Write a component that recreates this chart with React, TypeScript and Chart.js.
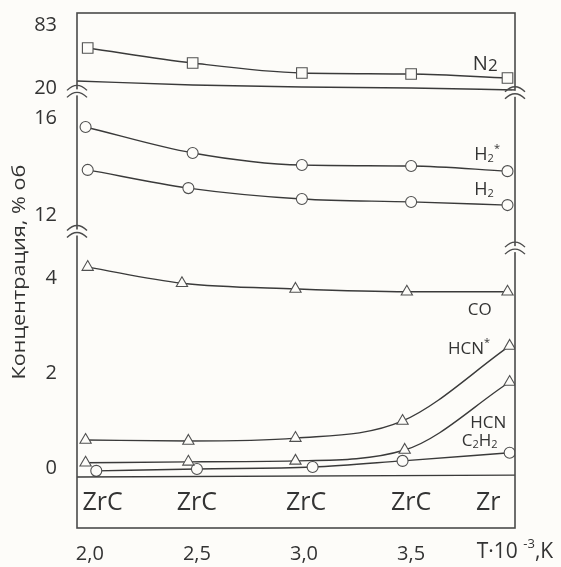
import { useEffect, useRef } from "react";
import { Chart, registerables } from "chart.js";
Chart.register(...registerables);

// ---- data ----
const xTicks = [2.0, 2.5, 3.0, 3.5];
const xTickLabels = ["2,0", "2,5", "3,0", "3,5"];
const yTickValues = [0, 2, 4, 12, 16, 20, 83];
const yTickLabels = ["0", "2", "4", "12", "16", "20", "83"];

const n2X = [1.99, 2.48, 2.99, 3.5, 3.95];
const n2Y = [60, 45, 35, 34, 30];
const upperLineX = [1.94, 2.48, 2.99, 3.5, 3.985];
const upperLineY = [27, 23, 21, 20, 18];
const h2StarX = [1.98, 2.48, 2.99, 3.5, 3.95];
const h2StarY = [15.63, 14.56, 14.06, 14.02, 13.81];
const h2X = [1.99, 2.46, 2.99, 3.5, 3.95];
const h2Y = [13.86, 13.11, 12.66, 12.54, 12.41];
const coX = [1.99, 2.43, 2.96, 3.48, 3.95];
const coY = [4.23, 3.89, 3.77, 3.71, 3.71];
const hcnStarX = [1.98, 2.46, 2.96, 3.46, 3.96];
const hcnStarY = [0.59, 0.57, 0.63, 0.99, 2.57];
const hcnX = [1.98, 2.46, 2.96, 3.47, 3.96];
const hcnY = [0.11, 0.13, 0.15, 0.38, 1.81];
const c2h2X = [2.03, 2.5, 3.04, 3.46, 3.96];
const c2h2Y = [-0.06, -0.02, 0.02, 0.15, 0.32];
const baseLineX = [1.94, 3.985];
const baseLineY = [-0.19, -0.15];

const phaseLabels = ["ZrC", "ZrC", "ZrC", "ZrC", "Zr"];
const phaseX = [2.06, 2.5, 3.01, 3.5, 3.86];

// ---- broken axis transform: value -> display coordinate ----
const toD = (v: number) => {
  if (v <= 8) return v;
  if (v <= 17.5) return 5.326 + (v - 12) * 0.5105;
  return 8 + (v - 20) * 0.02105;
};

const FONT = "'Open Sans', 'DejaVu Sans', sans-serif";
const INK = "#3a3a3a";
const BG = "#fdfcf9";

type Part = { t: string; s?: "sub" | "sup" | "sub2" };

const seriesLabels: { parts: Part[]; x: number; v: number; size: number }[] = [
  { parts: [{ t: "N" }, { t: "2", s: "sub2" }], x: 3.846, v: 44, size: 20 },
  { parts: [{ t: "H" }, { t: "2", s: "sub" }, { t: "*", s: "sup" }], x: 3.855, v: 14.47, size: 18 },
  { parts: [{ t: "H" }, { t: "2", s: "sub" }], x: 3.84, v: 13.03, size: 18 },
  { parts: [{ t: "CO" }], x: 3.82, v: 3.33, size: 17 },
  { parts: [{ t: "HCN" }, { t: "*", s: "sup" }], x: 3.77, v: 2.5, size: 17 },
  { parts: [{ t: "HCN" }], x: 3.86, v: 0.95, size: 17 },
  { parts: [{ t: "C" }, { t: "2", s: "sub" }, { t: "H" }, { t: "2", s: "sub" }], x: 3.82, v: 0.57, size: 17 },
];

function drawRich(ctx: CanvasRenderingContext2D, parts: Part[], cx: number, cy: number, size: number) {
  const small = Math.round(size * 0.62);
  const fontFor = (p: Part) => `${p.s === "sub2" ? Math.round(size * 0.85) : p.s ? small : size}px ${FONT}`;
  let total = 0;
  for (const p of parts) {
    ctx.font = fontFor(p);
    total += ctx.measureText(p.t).width;
  }
  let x = cx - total / 2;
  ctx.textAlign = "left";
  ctx.textBaseline = "middle";
  for (const p of parts) {
    ctx.font = fontFor(p);
    const dy = p.s === "sub" ? size * 0.22 : p.s === "sub2" ? size * 0.1 : p.s === "sup" ? -size * 0.35 : 0;
    ctx.fillText(p.t, x, cy + dy);
    x += ctx.measureText(p.t).width;
  }
}

const mk = (xs: number[], ys: number[]) => xs.map((x, i) => ({ x, y: toD(ys[i]) }));

const decorPlugin = {
  id: "decor",
  beforeDraw(chart: any) {
    const { ctx } = chart;
    ctx.save();
    ctx.fillStyle = BG;
    ctx.fillRect(0, 0, chart.width, chart.height);
    ctx.restore();
  },
  afterDraw(chart: any) {
    const { ctx, chartArea: a } = chart;
    const xs = chart.scales.x;
    const ys = chart.scales.y;
    ctx.save();
    // frame
    ctx.strokeStyle = "#4a4a4a";
    ctx.lineWidth = 1.6;
    ctx.strokeRect(a.left, a.top, a.right - a.left, a.bottom - a.top);

    // axis breaks
    const brk = (x: number, y: number) => {
      ctx.fillStyle = BG;
      ctx.fillRect(x - 3, y - 1, 6, 6);
      ctx.strokeStyle = "#4a4a4a";
      ctx.lineWidth = 1.4;
      for (const off of [0, 7]) {
        ctx.beginPath();
        ctx.moveTo(x - 10, y + off);
        ctx.quadraticCurveTo(x, y + off - 10, x + 10, y + off);
        ctx.stroke();
      }
    };
    brk(a.left, ys.getPixelForValue(7.95));
    brk(a.left, ys.getPixelForValue(5.0));
    brk(a.right, ys.getPixelForValue(7.92));
    brk(a.right, ys.getPixelForValue(4.65));

    // series labels
    ctx.fillStyle = "#333";
    for (const l of seriesLabels) {
      drawRich(ctx, l.parts, xs.getPixelForValue(l.x), ys.getPixelForValue(toD(l.v)), l.size);
    }

    // phase labels
    ctx.font = `25px ${FONT}`;
    ctx.textAlign = "center";
    ctx.textBaseline = "middle";
    phaseLabels.forEach((t, i) => {
      ctx.fillText(t, xs.getPixelForValue(phaseX[i]), a.bottom - 25);
    });

    // x unit label
    drawRich(
      ctx,
      [{ t: "T·10 " }, { t: "-3", s: "sup" }, { t: ",K" }],
      a.right,
      a.bottom + 24,
      21
    );

    // y title
    ctx.save();
    ctx.translate(20, 272);
    ctx.rotate(-Math.PI / 2);
    ctx.font = `19px ${FONT}`;
    const title = "Концентрация, % об";
    const w = ctx.measureText(title).width;
    ctx.scale(215 / w, 1);
    ctx.textAlign = "center";
    ctx.textBaseline = "middle";
    ctx.fillText(title, 0, 0);
    ctx.restore();

    ctx.restore();
  },
};

export default function App() {
  const ref = useRef<HTMLCanvasElement>(null);
  useEffect(() => {
    document.body.style.margin = "0";
    document.body.style.overflow = "hidden";
    const line = (data: any[], style: any, r: number) => ({
      data,
      borderColor: INK,
      borderWidth: 1.4,
      pointStyle: style,
      pointRadius: r,
      pointBackgroundColor: BG,
      pointBorderColor: "#505050",
      pointBorderWidth: 1.1,
      cubicInterpolationMode: "monotone",
      fill: false,
    });
    const chart = new Chart(ref.current!, {
      type: "line",
      data: {
        datasets: [
          line(mk(upperLineX, upperLineY), "circle", 0),
          line(mk(baseLineX, baseLineY), "circle", 0),
          line(mk(n2X, n2Y), "rect", 7.5),
          line(mk(h2StarX, h2StarY), "circle", 5.5),
          line(mk(h2X, h2Y), "circle", 5.5),
          line(mk(coX, coY), "triangle", 6.5),
          line(mk(hcnStarX, hcnStarY), "triangle", 6.5),
          line(mk(hcnX, hcnY), "triangle", 6.5),
          line(mk(c2h2X, c2h2Y), "circle", 5.5),
        ] as any,
      },
      options: {
        animation: false,
        responsive: false,
        devicePixelRatio: 1,
        layout: { padding: { top: 13, right: 46, left: 0, bottom: 0 } },
        plugins: { legend: { display: false }, tooltip: { enabled: false } },
        scales: {
          x: {
            type: "linear",
            min: 1.94,
            max: 3.985,
            grid: { display: false },
            border: { display: false },
            afterBuildTicks: (s: any) => {
              s.ticks = xTicks.map((v) => ({ value: v }));
            },
            afterFit: (s: any) => {
              s.height = 39;
              s.paddingLeft = 0;
              s.paddingRight = 0;
            },
            ticks: {
              autoSkip: false,
              maxRotation: 0,
              padding: 6,
              color: "#333",
              font: { family: FONT, size: 20 },
              callback: (_v: any, i: number) => xTickLabels[i],
            },
          },
          y: {
            type: "linear",
            min: -1.263,
            max: 9.579,
            grid: { display: false },
            border: { display: false },
            afterBuildTicks: (s: any) => {
              s.ticks = yTickValues.map((v) => ({ value: toD(v) }));
            },
            afterFit: (s: any) => {
              s.width = 77;
              s.paddingTop = 0;
              s.paddingBottom = 0;
            },
            ticks: {
              autoSkip: false,
              padding: 12,
              color: "#333",
              font: { family: FONT, size: 20 },
              callback: (_v: any, i: number) => yTickLabels[i],
            },
          },
        },
      } as any,
      plugins: [decorPlugin],
    });
    return () => chart.destroy();
  }, []);
  return (
    <div style={{ width: 561, height: 567 }}>
      <canvas ref={ref} width={561} height={567} style={{ width: 561, height: 567, display: "block" }} />
    </div>
  );
}
